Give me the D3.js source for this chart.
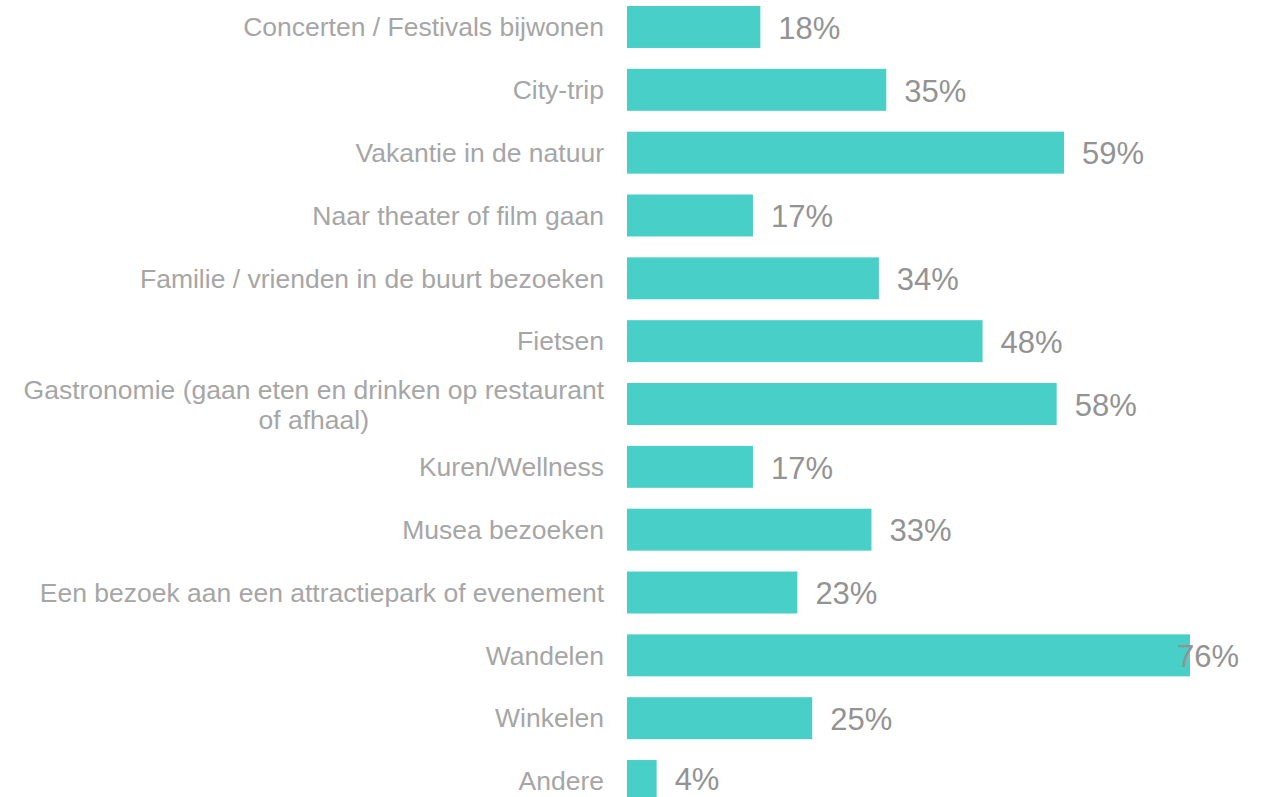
<!DOCTYPE html>
<html>
<head>
<meta charset="utf-8">
<script src="https://cdn.jsdelivr.net/npm/d3@7"></script>
<style>
  body { margin: 0; background: #fff; }
  text { font-family: "Liberation Sans", Arial, sans-serif; }
</style>
</head>
<body>
<script>
// activities and share of respondents (%)
var categories = [
  "Concerten / Festivals bijwonen",
  "City-trip",
  "Vakantie in de natuur",
  "Naar theater of film gaan",
  "Familie / vrienden in de buurt bezoeken",
  "Fietsen",
  "Gastronomie (gaan eten en drinken op restaurant|of afhaal)",
  "Kuren/Wellness",
  "Musea bezoeken",
  "Een bezoek aan een attractiepark of evenement",
  "Wandelen",
  "Winkelen",
  "Andere"
];
var values = [18, 35, 59, 17, 34, 48, 58, 17, 33, 23, 76, 25, 4];

var width = 1266, height = 797;

var svg = d3.select("body")
  .append("svg")
  .attr("width", width)
  .attr("height", height);

// x scale: bars start at 627
var x = d3.scaleLinear()
  .domain([0, 100])
  .range([627, 627 + 740.8]);

// y scale: one band per category
var y = d3.scaleBand()
  .domain(categories)
  .range([6, 802])
  .paddingInner(0.332)
  .paddingOuter(0);

var rows = categories.map(function(c, i) {
  return {cat: c, value: values[i]};
});

// bars
svg.selectAll("rect.bar")
  .data(rows)
  .enter()
  .append("rect")
  .attr("class", "bar")
  .attr("x", x(0))
  .attr("y", function(d) { return y(d.cat); })
  .attr("width", function(d) { return x(d.value) - x(0); })
  .attr("height", y.bandwidth())
  .attr("fill", "#48cfc8");

// category labels (multi-line ones are centred as a block)
var labels = svg.selectAll("text.cat")
  .data(rows)
  .enter()
  .append("text")
  .attr("class", "cat")
  .attr("fill", "#a6a6a6")
  .style("font-size", "26.5px");

labels.each(function(d) {
  var lines = d.cat.split("|");
  var t = d3.select(this);
  var cy = y(d.cat) + y.bandwidth() / 2;
  var lh = 30;
  if (lines.length == 1) {
    t.attr("x", 604)
     .attr("y", cy)
     .attr("dy", "0.35em")
     .attr("text-anchor", "end")
     .text(lines[0]);
  } else {
    // measure widest line to centre the block against right edge
    var tmp = svg.append("text").style("font-size", "26.5px").text(lines[0]);
    var w = tmp.node().getComputedTextLength();
    tmp.remove();
    var mid = 604 - w / 2;
    t.attr("text-anchor", "middle");
    lines.forEach(function(line, j) {
      t.append("tspan")
        .attr("x", mid)
        .attr("y", cy + 1 + (j - (lines.length - 1) / 2) * lh)
        .attr("dy", "0.35em")
        .text(line);
    });
  }
});

// value labels
svg.selectAll("text.val")
  .data(rows)
  .enter()
  .append("text")
  .attr("class", "val")
  .attr("x", function(d) { return Math.min(x(d.value) + 18, 1177); })
  .attr("y", function(d) { return Math.min(y(d.cat) + y.bandwidth() / 2, 778); })
  .attr("dy", "0.38em")
  .attr("fill", "#939393")
  .style("font-size", "31px")
  .text(function(d) { return d.value + "%"; });
</script>
</body>
</html>
